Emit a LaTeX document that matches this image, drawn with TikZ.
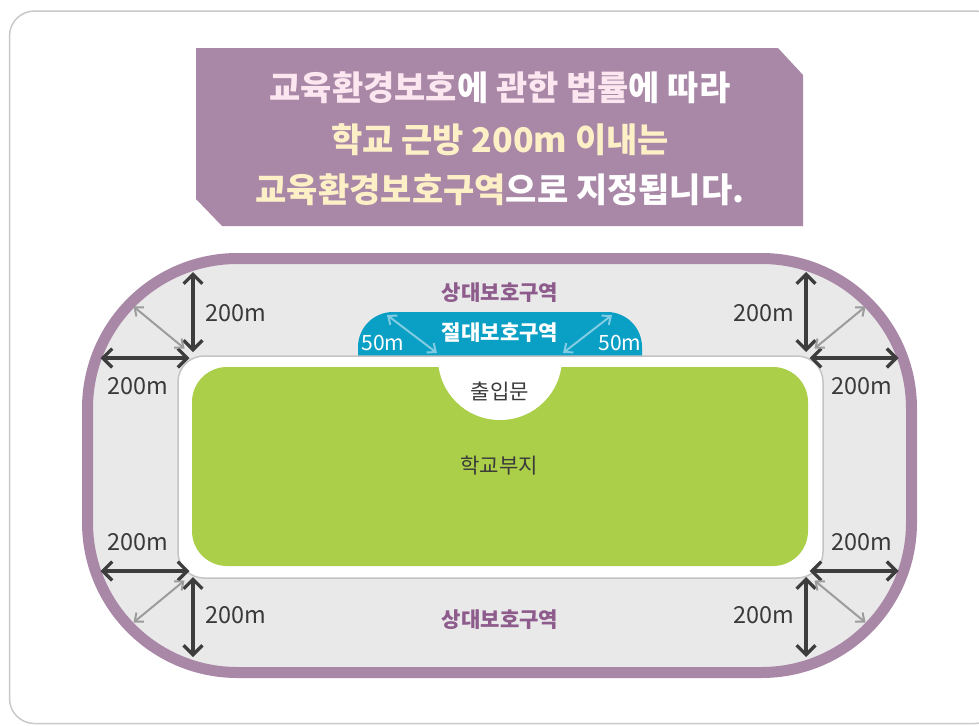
\documentclass[tikz,border=0pt]{standalone}
\usepackage{fontspec}
\setmainfont{Noto Sans CJK KR}
\usetikzlibrary{arrows.meta}

\definecolor{cardGray}{HTML}{C9C9C9}
\definecolor{bandPurple}{HTML}{A987A7}
\definecolor{zoneGray}{HTML}{E9E9E9}
\definecolor{wallGray}{HTML}{C4C4C4}
\definecolor{schoolGreen}{HTML}{ABCF48}
\definecolor{absoluteBlue}{HTML}{0A9FC4}
\definecolor{arrowDark}{HTML}{3D3D3D}
\definecolor{arrowLight}{HTML}{9C9C9C}
\definecolor{arrowBlue}{HTML}{82CCE3}
\definecolor{labelPurple}{HTML}{8E5B8D}
\definecolor{labelDark}{HTML}{3A3A3A}
\definecolor{bannerPink}{HTML}{FCE6EF}
\definecolor{bannerYellow}{HTML}{FDF0C6}

\newcommand\bandLineWidth{0.33cm}
\newcommand\wallLineWidth{0.045cm}
\newcommand\arrowLineWidth{0.1cm}
\newcommand\thinArrowLineWidth{0.06cm}
\newcommand\outerRadius{4.5cm}
\newcommand\wallRadius{0.78cm}
\newcommand\schoolRadius{1.05cm}
\newcommand\distText{200m}
\newcommand\gateText{50m}

\tikzset{
    distArrow/.style={{Straight Barb[length=8pt,width=16pt]}-{Straight Barb[length=8pt,width=16pt]}, draw=arrowDark, line width=\arrowLineWidth},
    diagArrow/.style={{Straight Barb[length=6pt,width=10pt]}-{Straight Barb[length=6pt,width=10pt]}, draw=arrowLight, line width=\thinArrowLineWidth},
    gateArrow/.style={{Straight Barb[length=6pt,width=10pt]}-{Straight Barb[length=6pt,width=10pt]}, draw=arrowBlue, line width=\thinArrowLineWidth},
    distLabel/.style={font=\fontsize{20}{24}\selectfont, text=labelDark, inner sep=0pt},
    zoneLabel/.style={font=\fontsize{18}{21}\selectfont\bfseries, inner sep=0pt},
    bannerLine/.style={font=\fontsize{29}{33}\selectfont\bfseries, text=white, inner sep=0pt}
}

\begin{document}
\begin{tikzpicture}[x=0.03cm, y=-0.03cm]

    \useasboundingbox (0,0) rectangle (979,725);
    \clip (0,0) rectangle (979,725);

    % card
    \draw [draw=cardGray, line width=\wallLineWidth, rounded corners=0.75cm] (9.5,11) rectangle (1000,723.5);

    % banner
    \fill [bandPurple] (196,48) -- (778,48) -- (803,75) -- (803,226) -- (222,226) -- (196,199) -- cycle;
    \node (Banner_Line1) [bannerLine] at (500,88) {{\color{bannerPink}교육환경보호}에 {\color{bannerPink}관한 법률}에 따라};
    \node (Banner_Line2) [bannerLine, text=bannerYellow] at (500,140) {학교 근방 200m 이내는};
    \node (Banner_Line3) [bannerLine] at (500,190) {{\color{bannerYellow}교육환경보호구역}으로 지정됩니다.};

    % relative zone
    \draw [draw=bandPurple, fill=zoneGray, line width=\bandLineWidth, rounded corners=\outerRadius] (87.5,258.5) rectangle (911.5,672.5);

    % absolute zone
    \fill [absoluteBlue, rounded corners=\schoolRadius] (358,360) -- (358,312) -- (642,312) -- (642,360);

    % school
    \draw [draw=wallGray, fill=white, line width=\wallLineWidth, rounded corners=\wallRadius] (178,356) rectangle (823,578);
    \fill [schoolGreen, rounded corners=\schoolRadius] (192,367) rectangle (808,566);
    \fill [white] (438,358) arc [start angle=180, end angle=0, radius=62] -- cycle;

    \node (Zone_Rel_Top) [zoneLabel, text=labelPurple] at (500,293) {상대보호구역};
    \node (Zone_Rel_Bottom) [zoneLabel, text=labelPurple] at (500,620) {상대보호구역};
    \node (Zone_Abs) [zoneLabel, text=white] at (500,333) {절대보호구역};
    \node (Gate) [distLabel, font=\fontsize{18}{21}\selectfont] at (500,391) {출입문};
    \node (School) [distLabel, font=\fontsize{18}{21}\selectfont] at (499,466) {학교부지};

    \foreach \sx in {-1,1}{
        \foreach \sy in {-1,1}{
            \coordinate (Dist_\sx_\sy_va) at (499.5+306.5*\sx, 464.5+192.5*\sy);
            \coordinate (Dist_\sx_\sy_vb) at (499.5+306.5*\sx, 464.5+112.5*\sy);
            \coordinate (Dist_\sx_\sy_ha) at (499.5+399*\sx, 464.5+106.5*\sy);
            \coordinate (Dist_\sx_\sy_hb) at (499.5+310*\sx, 464.5+106.5*\sy);
            \coordinate (Dist_\sx_\sy_da) at (499.5+315*\sx, 464.5+116*\sy);
            \coordinate (Dist_\sx_\sy_db) at (499.5+366*\sx, 464.5+158*\sy);
            \node (Dist_\sx_\sy_vl) [distLabel] at (499.5+264*\sx, 464.5+151*\sy) {\distText};
            \node (Dist_\sx_\sy_hl) [distLabel] at (499.5+362*\sx, 464.5+78*\sy) {\distText};
        }
    }

%Part One
    \draw [distArrow] (Dist_-1_-1_va) -- (Dist_-1_-1_vb);
    \draw [distArrow] (Dist_-1_-1_ha) -- (Dist_-1_-1_hb);
    \draw [diagArrow] (Dist_-1_-1_da) -- (Dist_-1_-1_db);

    \draw [distArrow] (Dist_1_-1_va) -- (Dist_1_-1_vb);
    \draw [distArrow] (Dist_1_-1_ha) -- (Dist_1_-1_hb);
    \draw [diagArrow] (Dist_1_-1_da) -- (Dist_1_-1_db);

%Part Two
    \draw [distArrow] (Dist_-1_1_va) -- (Dist_-1_1_vb);
    \draw [distArrow] (Dist_-1_1_ha) -- (Dist_-1_1_hb);
    \draw [diagArrow] (Dist_-1_1_da) -- (Dist_-1_1_db);

    \draw [distArrow] (Dist_1_1_va) -- (Dist_1_1_vb);
    \draw [distArrow] (Dist_1_1_ha) -- (Dist_1_1_hb);
    \draw [diagArrow] (Dist_1_1_da) -- (Dist_1_1_db);

%Part Three
    \coordinate (Abs_L_a) at (387,315);
    \coordinate (Abs_L_b) at (437,353);
    \coordinate (Abs_R_a) at (612,315);
    \coordinate (Abs_R_b) at (563,353);
    \draw [gateArrow] (Abs_L_a) -- (Abs_L_b);
    \draw [gateArrow] (Abs_R_a) -- (Abs_R_b);
    \node (Abs_L_label) [distLabel, font=\fontsize{18}{20}\selectfont, text=white] at (383,343) {\gateText};
    \node (Abs_R_label) [distLabel, font=\fontsize{18}{20}\selectfont, text=white] at (620,343) {\gateText};

\end{tikzpicture}
\end{document}
